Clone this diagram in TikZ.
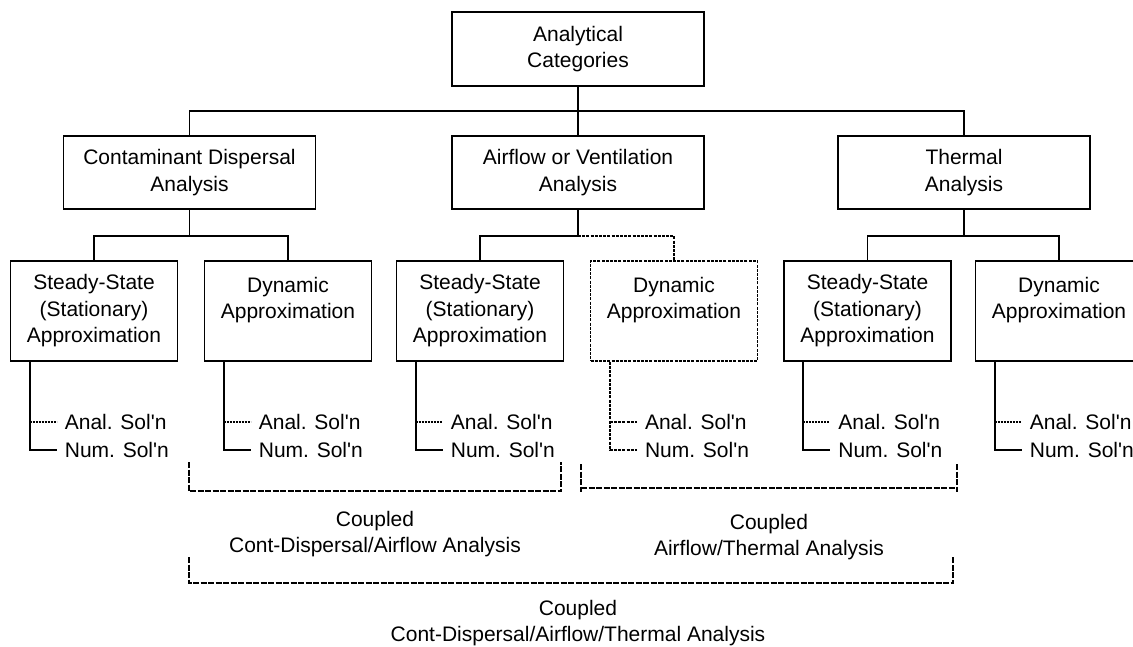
\documentclass[tikz,border=0pt]{standalone}
\usepackage{fontspec}
\setmainfont{Liberation Sans}[Ligatures=TeXOff]
\begin{document}
\begin{tikzpicture}[x=1pt,y=-1pt,
  every node/.style={font=\fontsize{21}{26.5}\selectfont},
  box/.style={draw,line width=1.7pt,align=center,inner sep=0pt},
  topbox/.style={box,minimum width=252pt,minimum height=74pt},
  midbox/.style={box,minimum width=252pt,minimum height=73pt},
  leafbox/.style={box,minimum width=167pt,minimum height=100pt},
  dotbox/.style={leafbox,line width=1.4pt,dash pattern=on 3pt off 1.2pt},
  conn/.style={line width=1.7pt},
  dotconn/.style={line width=1.4pt,dash pattern=on 3pt off 1.2pt},
  anal/.style={line width=1.3pt,dash pattern=on 2pt off 1pt},
  sol/.style={anchor=west,inner sep=0pt},
  brk/.style={line width=1.3pt,dash pattern=on 6pt off 1.5pt},
  captxt/.style={anchor=base,inner sep=0pt}]
\useasboundingbox (0,0) rectangle (1133,646);

% top
\node[topbox] (top) at (578,49) {Analytical\\Categories};
% level 1
\node[midbox] (c1) at (189.5,172.5) {Contaminant Dispersal\\Analysis};
\node[midbox] (c2) at (578,172.5) {Airflow or Ventilation\\Analysis};
\node[midbox] (c3) at (964,172.5) {Thermal\\Analysis};
% level 2
\node[leafbox] (s1) at (94,311) {Steady-State\\(Stationary)\\Approximation};
\node[leafbox] (d1) at (288,311) {Dynamic\\Approximation\\\phantom{X}};
\node[leafbox] (s2) at (480,311) {Steady-State\\(Stationary)\\Approximation};
\node[dotbox] (d2) at (674,311) {Dynamic\\Approximation\\\phantom{X}};
\node[leafbox] (s3) at (867.5,311) {Steady-State\\(Stationary)\\Approximation};
\node[leafbox] (d3) at (1059,311) {Dynamic\\Approximation\\\phantom{X}};

% tree connectors
\draw[conn] (top.south) -- (c2.north);
\draw[conn] (c1.north) -- ++(0,-24) -| (c3.north);
\draw[conn] (c1.south) -- ++(0,26) coordinate (j1);
\draw[conn] (s1.north) |- (j1) -| (d1.north);
\draw[conn] (c2.south) -- ++(0,26) coordinate (j2);
\draw[conn] (s2.north) |- (j2);
\draw[dotconn] (j2) -| (d2.north);
\draw[conn] (c3.south) -- ++(0,26) coordinate (j3);
\draw[conn] (s3.north) |- (j3) -| (d3.north);

% solution leaves
\foreach \b/\st/\ls in {s1/conn/anal, d1/conn/anal, s2/conn/anal, d2/dotconn/dotconn, s3/conn/anal, d3/conn/anal}{
  \coordinate (v\b) at ([xshift=20pt]\b.south west);
  \node[sol] (a\b) at ([xshift=55pt]\b.south west |- 0,422) {Anal. Sol'n};
  \node[sol] (n\b) at ([xshift=55pt]\b.south west |- 0,450) {Num. Sol'n};
  \draw[\st] (v\b) |- ([xshift=-8pt]n\b.west);
  \draw[\ls] (v\b |- a\b.west) -- ([xshift=-8pt]a\b.west);
}

% coupling brackets
\coordinate (b1a) at (189,462); \coordinate (b1b) at (561,462);
\draw[brk] (b1a) -- (189,491) -- (561,491) -- (b1b);
\coordinate (b2a) at (581,464); \coordinate (b2b) at (957,464);
\draw[brk] (b2a) -- (581,492);
\draw[brk] (b2b) -- (957,492);
\draw[brk] (581,488) -- (957,488);
\coordinate (b3a) at (189,557); \coordinate (b3b) at (953,557);
\draw[brk] (b3a) -- (189,583) -- (953,583) -- (b3b);

\node[captxt] (t1a) at (375,526) {Coupled};
\node[captxt] (t1b) at (375,552) {Cont-Dispersal/Airflow Analysis};
\node[captxt] (t2a) at (769,529) {Coupled};
\node[captxt] (t2b) at (769,555) {Airflow/Thermal Analysis};
\node[captxt] (t3a) at (578,615) {Coupled};
\node[captxt] (t3b) at (578,641) {Cont-Dispersal/Airflow/Thermal Analysis};
\end{tikzpicture}
\end{document}
